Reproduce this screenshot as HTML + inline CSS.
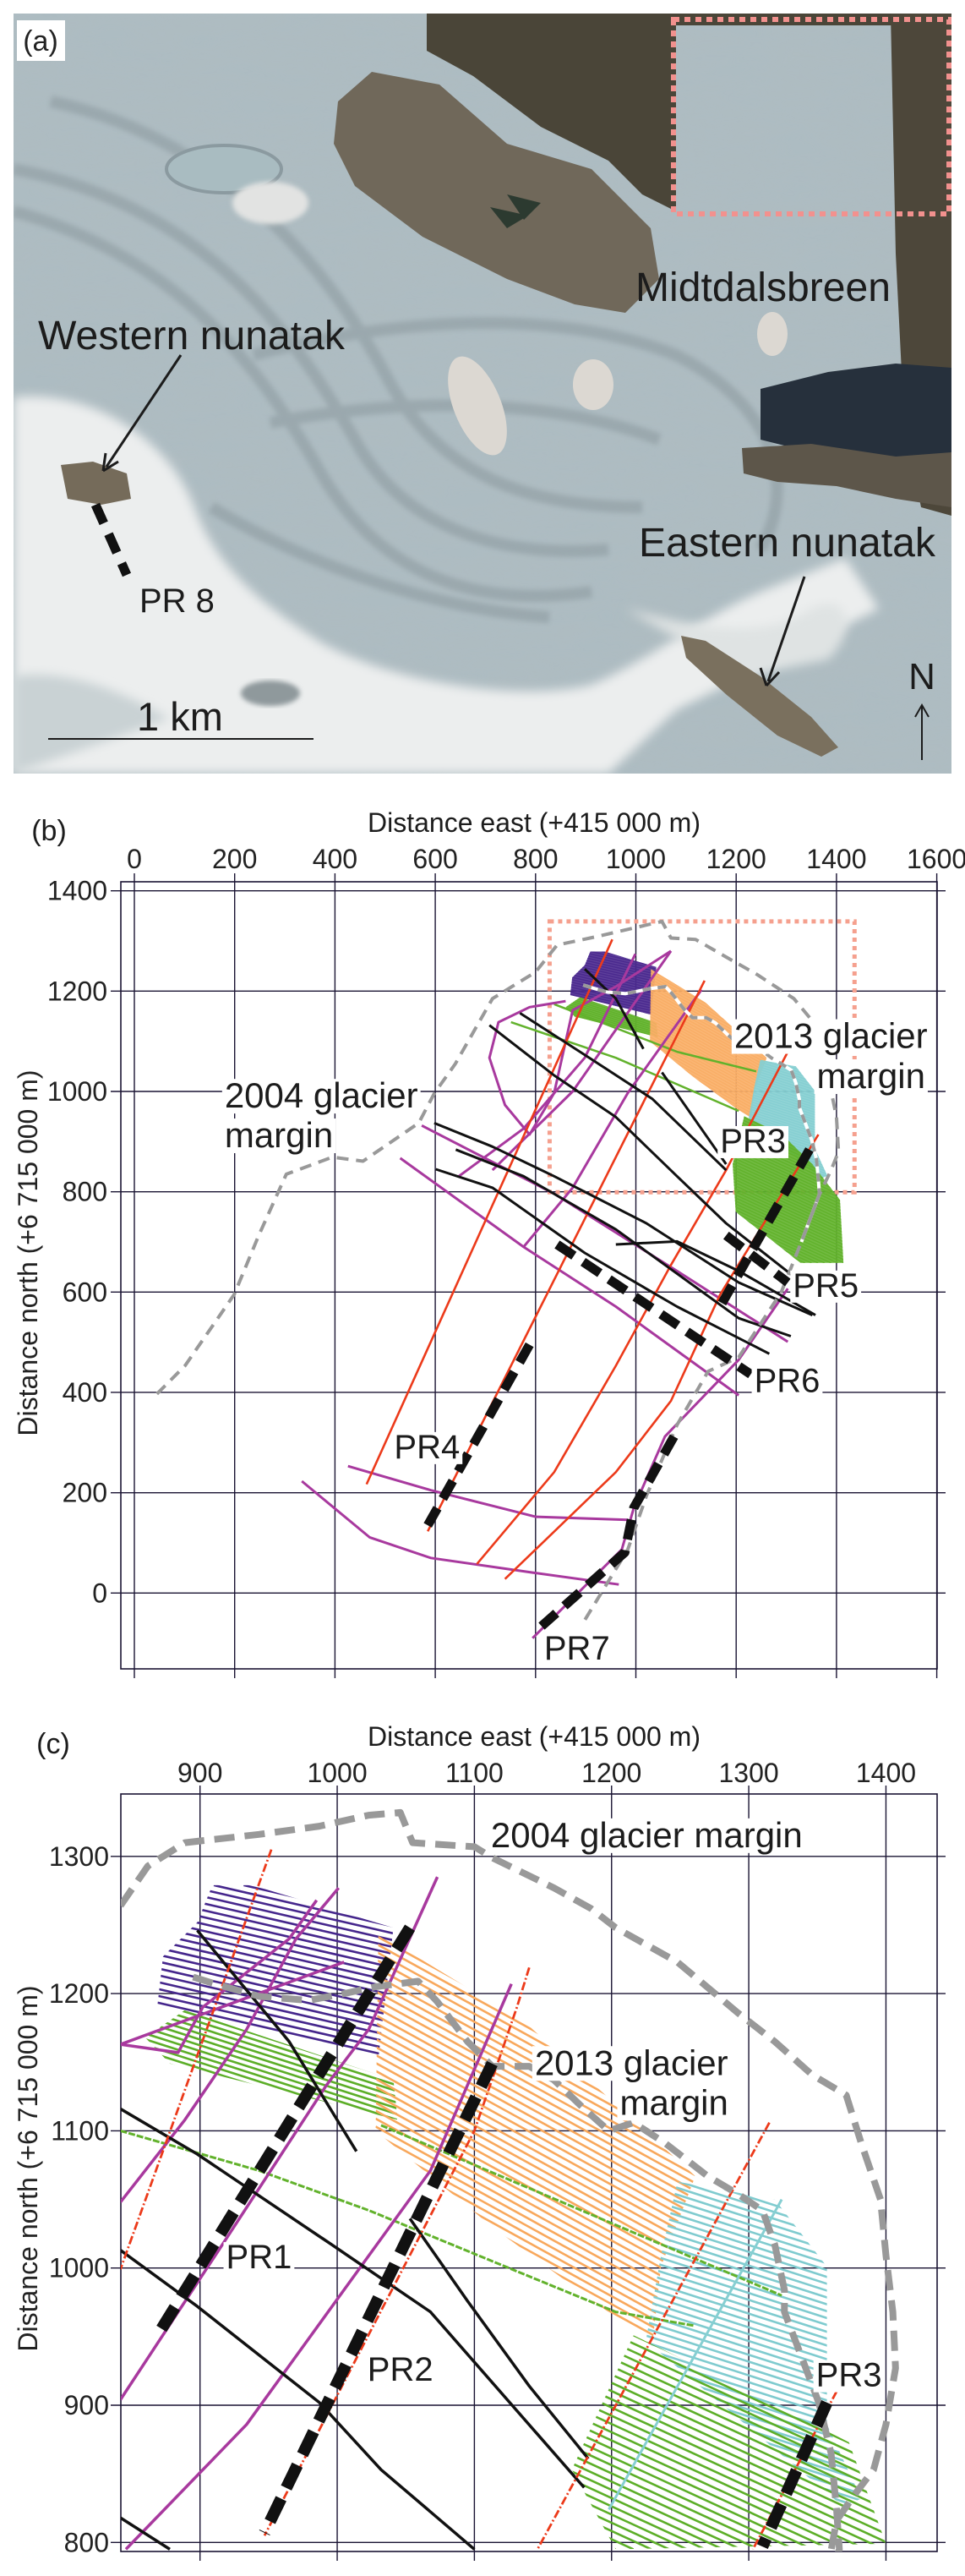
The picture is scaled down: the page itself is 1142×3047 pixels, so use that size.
<!DOCTYPE html>
<html><head><meta charset="utf-8"><style>
html,body{margin:0;padding:0;background:#fff;width:1142px;height:3047px;overflow:hidden;}
svg{display:block;font-family:"Liberation Sans",Arial,sans-serif;}
</style></head><body>
<svg id="fig" width="1142" height="3047" viewBox="0 0 1142 3047" xmlns="http://www.w3.org/2000/svg">
<defs>
<filter id="blur6"><feGaussianBlur stdDeviation="6"/></filter>
<filter id="blur3"><feGaussianBlur stdDeviation="3"/></filter>
<filter id="tex" x="0" y="0" width="100%" height="100%"><feTurbulence type="fractalNoise" baseFrequency="0.012 0.05" numOctaves="3" seed="4"/><feColorMatrix type="matrix" values="0 0 0 0 0.45  0 0 0 0 0.5  0 0 0 0 0.52  0 0 0 0.55 -0.1"/></filter>
<clipPath id="clipA"><rect x="16" y="16" width="1110" height="899"/></clipPath>
<clipPath id="clipB"><rect x="143" y="1043" width="966" height="931"/></clipPath>
<clipPath id="clipC"><rect x="143" y="2122" width="966" height="896"/></clipPath>
</defs>

<g id="panelA" clip-path="url(#clipA)">
<rect x="16" y="16" width="1110" height="899" fill="#adbcc2"/>
<rect x="16" y="16" width="1110" height="899" filter="url(#tex)" opacity="0.8"/>
<g fill="none" stroke="#7f8c92" stroke-width="14" opacity="0.4" filter="url(#blur3)">
<path d="M16,250 C200,300 300,420 380,560 C450,680 560,720 700,700"/>
<path d="M16,200 C230,240 340,380 420,520 C480,630 600,660 720,650"/>
<path d="M60,120 C250,160 380,300 460,450 C520,560 620,600 760,600"/>
<path d="M300,420 C450,380 650,360 800,420 C900,470 950,560 900,650"/>
<path d="M320,500 C480,470 650,470 780,520"/>
<path d="M250,600 C350,660 500,720 650,730"/>
</g>
<path d="M16,470 C110,460 200,520 230,600 C260,680 320,720 380,760 C470,810 620,830 700,810 C770,780 830,730 900,700 L1000,660 L1040,720 L900,790 L800,840 L720,915 L16,915 Z" fill="#eceeee" filter="url(#blur6)"/>
<path d="M16,800 C80,790 150,820 200,850 L16,915 Z" fill="#c9d2d4" filter="url(#blur6)"/>
<path d="M740,720 C820,740 900,760 960,720 C1000,700 1020,740 980,780 L880,800 Z" fill="#dfe3e3" filter="url(#blur6)"/>
<path d="M505,16 L1126,16 L1126,30 L800,30 L800,250 L760,230 L720,190 L640,150 L560,90 L505,60 Z" fill="#4a4538"/>
<path d="M1054,16 L1126,16 L1126,610 L1090,600 L1070,500 L1060,300 Z" fill="#4d473a"/>
<path d="M400,120 L440,85 L520,100 L600,170 L700,200 L770,270 L780,330 L740,370 L680,360 L600,330 L500,280 L420,220 L395,170 Z" fill="#70685a"/>
<path d="M600,230 L640,240 L620,260 Z M580,245 L625,255 L600,270 Z" fill="#2c3a30"/>
<path d="M900,460 L980,440 L1060,430 L1126,435 L1126,550 L1060,545 L980,540 L900,520 Z" fill="#26303c"/>
<path d="M878,530 L960,525 L1060,540 L1126,535 L1126,600 L1060,590 L990,575 L920,570 L880,560 Z" fill="#5d564a"/>
<path d="M806,752 L835,758 L900,800 L960,848 L992,884 L972,895 L920,870 L860,822 L812,778 Z" fill="#7a705e"/>
<path d="M72,550 L110,546 L150,560 L155,590 L120,597 L80,590 Z" fill="#756b5a"/>
<ellipse cx="565" cy="480" rx="28" ry="62" transform="rotate(-22 565 480)" fill="#dcd8d2"/>
<ellipse cx="702" cy="455" rx="24" ry="30" fill="#dcd8d2"/>
<ellipse cx="914" cy="395" rx="18" ry="26" fill="#dcd8d2"/>
<ellipse cx="265" cy="200" rx="68" ry="28" fill="#a9bcc1" stroke="#8b9aa0" stroke-width="4"/>
<ellipse cx="320" cy="240" rx="45" ry="25" fill="#e2e3e2" filter="url(#blur3)"/>
<ellipse cx="320" cy="820" rx="35" ry="15" fill="#8f999c" filter="url(#blur3)"/>
<rect x="797" y="23" width="326" height="230" fill="none" stroke="#f2918e" stroke-width="6" stroke-dasharray="7 6"/>
<rect x="20" y="24" width="57" height="48" fill="#fff"/>
<text x="48" y="60" font-size="34" text-anchor="middle" fill="#222">(a)</text>
<text x="752" y="356" font-size="48" textLength="302" lengthAdjust="spacingAndGlyphs" fill="#1c1c1c">Midtdalsbreen</text>
<text x="45" y="413" font-size="48" textLength="363" lengthAdjust="spacingAndGlyphs" fill="#1c1c1c">Western nunatak</text>
<line x1="214" y1="420" x2="126" y2="552" stroke="#1c1c1c" stroke-width="3"/>
<path d="M122,557 L125,536 M122,557 L140,546" stroke="#1c1c1c" stroke-width="3" fill="none"/>
<line x1="113" y1="597" x2="150" y2="680" stroke="#111" stroke-width="11" stroke-dasharray="24 14"/>
<text x="165" y="724" font-size="40" fill="#1c1c1c">PR 8</text>
<text x="756" y="658" font-size="48" textLength="351" lengthAdjust="spacingAndGlyphs" fill="#1c1c1c">Eastern nunatak</text>
<line x1="952" y1="682" x2="909" y2="806" stroke="#1c1c1c" stroke-width="3"/>
<path d="M907,811 L900,790 M907,811 L922,795" stroke="#1c1c1c" stroke-width="3" fill="none"/>
<text x="162" y="864" font-size="47" fill="#1c1c1c">1 km</text>
<line x1="57" y1="874" x2="371" y2="874" stroke="#1c1c1c" stroke-width="2"/>
<text x="1091" y="815" font-size="44" text-anchor="middle" fill="#1c1c1c">N</text>
<line x1="1091" y1="899" x2="1091" y2="836" stroke="#1c1c1c" stroke-width="2"/>
<path d="M1083,848 L1091,834 L1099,848" stroke="#1c1c1c" stroke-width="2" fill="none"/>
</g>
<g id="panelB"></g>
<g id="panelC"></g>
</svg>
<script>
const NS='http://www.w3.org/2000/svg';
const margin2004B=[[45,397],[101,453],[199,595],[248,713],[303,835],[395,869],[456,861],[567,937],[598,996],[640,1055],[714,1185],[800,1238],[843,1292],[923,1309],[1052,1339],[1070,1306],[1119,1303],[1180,1268],[1242,1233],[1315,1185],[1364,1126],[1383,1032],[1400,949],[1404,880],[1390,845],[1364,790],[1330,700],[1290,600],[1205,470],[1144,442],[1082,335],[1021,194],[984,87],[898,-54]];
const margin2004C=[[842,1264],[862,1293],[889,1310],[943,1316],[987,1322],[1023,1330],[1046,1332],[1055,1310],[1100,1307],[1113,1299],[1158,1277],[1185,1262],[1203,1248],[1248,1223],[1292,1186],[1319,1165],[1346,1141],[1371,1126],[1382,1091],[1396,1050],[1400,1009],[1405,968],[1407,927],[1400,886],[1391,853],[1378,836],[1364,816],[1360,794]];
const margin2013=[[895,1212],[911,1207],[943,1198],[979,1195],[1005,1200],[1028,1205],[1059,1209],[1073,1194],[1095,1165],[1113,1147],[1140,1147],[1158,1137],[1180,1116],[1198,1100],[1216,1106],[1239,1091],[1270,1067],[1292,1054],[1310,1042],[1319,1017],[1326,984],[1326,968],[1337,939],[1351,902],[1360,865],[1364,824],[1366,795],[1330,700]];
const zonePurple=[[909,1279],[938,1279],[1041,1248],[1030,1153],[869,1192],[873,1227],[898,1252]];
const zoneGreenUp=[[889,1188],[1041,1137],[1044,1108],[878,1149],[860,1168]];
const zoneOrange=[[1030,1244],[1138,1178],[1261,1067],[1236,1001],[1230,947],[1203,964],[1113,1030],[1028,1100]];
const zoneCyan=[[1248,1063],[1319,1050],[1357,1001],[1357,886],[1382,832],[1369,826],[1225,947],[1236,1009]];
const zoneGreenLowC=[[1216,951],[1292,914],[1373,873],[1400,799],[1203,795],[1171,853]];
const zoneGreenLowB=[[1193,855],[1216,951],[1292,914],[1352,855],[1407,784],[1414,658],[1328,658],[1199,760]];
const zoneSlopes=[-0.23,-0.32,-0.55,-0.32,-0.46];
const zoneSpacing=[5,4.2,5.8,5,6];
const redLinesB=[[[463,217],[953,1303]],[[585,123],[1137,1221]],[[683,58],[837,241],[960,453],[1070,654],[1180,843],[1303,1079]],[[739,28],[960,241],[1070,383],[1168,595],[1364,914]]];
const purpleLinesB=[[[334,223],[469,111],[591,70],[800,40],[966,17]],[[426,253],[591,205],[800,152],[984,146]],[[794,-90],[972,87],[996,170],[1058,312],[1205,465],[1303,607]],[[530,867],[776,690],[960,571],[1205,394]],[[573,932],[837,796],[1082,642],[1303,501]],[[647,831],[776,926],[898,1067],[999,1274]],[[714,843],[874,1000],[1070,1280]],[[776,690],[874,808],[984,997],[1131,1203]],[[1070,1280],[960,1209],[874,1162],[837,997],[788,914],[739,973],[708,1067],[726,1138],[788,1168],[860,1180]]];
const blackLinesB=[[[708,1132],[837,1032],[960,949],[1082,831],[1180,737],[1315,631]],[[769,1156],[898,1073],[1033,985],[1180,843]],[[598,937],[714,890],[837,831],[1021,737],[1205,619],[1352,554]],[[641,884],[776,831],[960,725],[1205,548],[1309,512]],[[601,845],[714,808],[898,678],[1082,571],[1266,477]],[[960,695],[1082,701],[1205,642],[1358,554]],[[898,1244],[960,1185],[1015,1085]],[[1052,1038],[1180,855]]];
const greenLinesB=[[[751,1138],[960,1067],[1205,961]],[[837,1174],[1082,1079],[1240,1040]]];
const prLinesB=[[[788,495],[585,135]],[[1346,884],[1168,571]],[[1180,713],[1303,619]],[[843,695],[1229,436]],[[1076,312],[996,170],[978,81],[812,-66]]];
const redLinesC=[[[952,1305],[842,999]],[[1140,1219],[1131,1190],[1100,1100],[947,805]],[[1315,1106],[1146,795]],[[1364,910],[1303,795]]];
const purpleLinesC=[[[842,1048],[889,1108],[934,1174],[970,1240],[1001,1277]],[[842,904],[911,1009],[992,1133],[1023,1174],[1073,1285]],[[846,795],[934,886],[1023,1009],[1068,1071],[1127,1207]],[[842,1163],[884,1157],[902,1190],[965,1240],[985,1268]],[[842,1163],[1005,1223]]];
const blackLinesC=[[[898,1246],[965,1165],[1014,1085]],[[842,1116],[898,1083],[996,1017],[1068,968],[1180,840]],[[842,1013],[898,972],[987,902],[1032,853],[1100,795]],[[1053,1036],[1095,976],[1140,914],[1183,861]],[[842,818],[878,795]]];
const greenLinesC=[[[842,1100],[943,1071],[1023,1042],[1113,1005],[1203,968],[1260,958]],[[1032,1104],[1324,980]]];
const cyanLinesC=[[[1324,1050],[1198,824]]];
const prLinesC=[[[1053,1248],[869,951]],[[1113,1149],[947,807]],[[1357,902],[1310,797]]];
const xTicksB=[0,200,400,600,800,1000,1200,1400,1600];
const yTicksB=[0,200,400,600,800,1000,1200,1400];
const xTicksC=[900,1000,1100,1200,1300,1400];
const yTicksC=[800,900,1000,1100,1200,1300];
const zoomBox=[[828,1339],[1436,799]];

const xb=v=>159+v*0.5935, yb=v=>1884.3-v*0.5933;
const xc=v=>236.7+(v-900)*1.6235, yc=v=>3007.3-(v-800)*1.623;

function mk(tag,attrs,parent){const e=document.createElementNS(NS,tag);for(const k in attrs)e.setAttribute(k,attrs[k]);parent.appendChild(e);return e;}
function ptsStr(arr,X,Y){return arr.map(p=>X(p[0]).toFixed(1)+','+Y(p[1]).toFixed(1)).join(' ');}

function axes(g,X,Y,xt,yt,frame,xLblY,yLblX){
  const [fx1,fy1,fx2,fy2]=frame;
  xt.forEach(v=>{const l=mk('line',{x1:X(v),x2:X(v),y1:fy1-10,y2:fy2+11,stroke:'#1a1433','stroke-width':1.4},g);
    
    
    const t=mk('text',{x:X(v),y:xLblY,'font-size':32,'text-anchor':'middle',fill:'#222'},g);t.textContent=v;
    
    });
  yt.forEach(v=>{const l=mk('line',{x1:fx1-12,x2:fx2+10,y1:Y(v),y2:Y(v),stroke:'#1a1433','stroke-width':1.4},g);
    
    
    const t=mk('text',{x:yLblX,y:Y(v)+11,'font-size':32,'text-anchor':'end',fill:'#222'},g);t.textContent=v;
    
    });
  const r=mk('rect',{x:fx1,y:fy1,width:fx2-fx1,height:fy2-fy1,fill:'none',stroke:'#1a1433','stroke-width':1.6},g);
  
  
}
function poly(g,arr,X,Y,stroke,w,dash,name){
  const p=mk('polyline',{points:ptsStr(arr,X,Y),fill:'none',stroke:stroke,'stroke-width':w,'stroke-linejoin':'round'},g);
  if(dash)p.setAttribute('stroke-dasharray',dash);
  
  
  return p;
}
let zid=0;
function zone(g,arr,X,Y,color,slope,sp,w,fillOp,name){
  zid++;
  const cp=mk('clipPath',{id:'zc'+zid},g);
  mk('polygon',{points:ptsStr(arr,X,Y)},cp);
  const zg=mk('g',{'clip-path':'url(#zc'+zid+')'},g);
  
  
  if(fillOp>0){const f=mk('polygon',{points:ptsStr(arr,X,Y),fill:color,opacity:fillOp},zg);
    
    }
  const xs=arr.map(p=>p[0]),ys=arr.map(p=>p[1]);
  const x0=Math.min(...xs),x1=Math.max(...xs),ymin=Math.min(...ys),ymax=Math.max(...ys);
  const ylo=ymin-Math.abs(slope)*(x1-x0),yhi=ymax+Math.abs(slope)*(x1-x0);
  for(let b=ylo;b<=yhi;b+=sp){
    // line y=b+slope*(x-x0); clip x so y stays inside [ymin,ymax]
    let xa=x0+(ymax-b)/slope, xbb=x0+(ymin-b)/slope;
    let lo=Math.max(x0,Math.min(xa,xbb)), hi=Math.min(x1,Math.max(xa,xbb));
    if(hi<=lo)continue;
    const l=mk('line',{x1:X(lo),y1:Y(b+slope*(lo-x0)),x2:X(hi),y2:Y(b+slope*(hi-x0)),stroke:color,'stroke-width':w},zg);
    
    
  }
}
function label(g,txt,x,y,size,anchor,bg,name){
  const t=mk('text',{x:x,y:y,'font-size':size,'text-anchor':anchor,fill:'#1c1c1c'},g);t.textContent=txt;
  
  
  if(bg){const bb=t.getBBox();const r=document.createElementNS(NS,'rect');
    r.setAttribute('x',bb.x-3);r.setAttribute('y',bb.y+4);r.setAttribute('width',bb.width+6);r.setAttribute('height',bb.height-6);r.setAttribute('fill','#fff');
    
    
    g.insertBefore(r,t);}
}

const gB=document.getElementById('panelB');
axes(gB,xb,yb,xTicksB,yTicksB,[143,1043,1109,1974],1027,127);
const gBd=mk('g',{'clip-path':'url(#clipB)'},gB);


const zb=mk('rect',{x:xb(zoomBox[0][0]),y:yb(zoomBox[0][1]),width:xb(zoomBox[1][0])-xb(zoomBox[0][0]),height:yb(zoomBox[1][1])-yb(zoomBox[0][1]),fill:'none',stroke:'#f5a08e','stroke-width':5,'stroke-dasharray':'5 5'},gBd);


zone(gBd,zonePurple,xb,yb,'#4b2a8f',zoneSlopes[0],zoneSpacing[0],1.5,0.9,'purple-survey-zone');
zone(gBd,zoneGreenUp,xb,yb,'#62b22c',zoneSlopes[1],zoneSpacing[1],1.5,0.9,'green-survey-zone-upper');
zone(gBd,zoneOrange,xb,yb,'#f9ae66',zoneSlopes[2],zoneSpacing[2],1.5,0.9,'orange-survey-zone');
zone(gBd,zoneCyan,xb,yb,'#86cfd2',zoneSlopes[3],zoneSpacing[3],1.5,0.9,'cyan-survey-zone');
zone(gBd,zoneGreenLowB,xb,yb,'#62b22c',zoneSlopes[4],zoneSpacing[4],1.5,0.9,'green-survey-zone-lower');
greenLinesB.forEach((l,i)=>poly(gBd,l,xb,yb,'#62b22c',2.5,null,'green-line-'+i));
purpleLinesB.forEach((l,i)=>poly(gBd,l,xb,yb,'#a8399e',3,null,'purple-line-'+i));
redLinesB.forEach((l,i)=>poly(gBd,l,xb,yb,'#ec3a1a',2.6,null,'red-line-'+i));
blackLinesB.forEach((l,i)=>poly(gBd,l,xb,yb,'#111',3,null,'black-line-'+i));
poly(gBd,margin2013,xb,yb,'#fff',4,null,'margin-2013-white');
poly(gBd,margin2013,xb,yb,'#999',4,'10 8','margin-2013');
poly(gBd,margin2004B,xb,yb,'#999',4,'14 9','margin-2004');
prLinesB.forEach((l,i)=>poly(gBd,l,xb,yb,'#111',11,'24 13','profile-dashed-'+i));
label(gB,'2004 glacier',xb(180),yb(993)+15,42,'start',true,'label-2004-glacier');
label(gB,'margin',xb(180),yb(914)+15,42,'start',true,'label-2004-margin');
label(gB,'2013 glacier',xb(1196),yb(1112)+15,42,'start',true,'label-2013-glacier');
label(gB,'margin',xb(1577),yb(1032)+15,42,'end',true,'label-2013-margin');
label(gB,'PR3',xb(1168),yb(904)+15,40,'start',true,'label-pr3');
label(gB,'PR5',xb(1313),yb(616)+15,40,'start',true,'label-pr5');
label(gB,'PR6',xb(1236),yb(426)+15,40,'start',true,'label-pr6');
label(gB,'PR4',xb(518),yb(294)+15,40,'start',true,'label-pr4');
label(gB,'PR7',xb(817),yb(-107)+15,40,'start',true,'label-pr7');
label(gB,'(b)',58,994,34,'middle',false,'panel-label-b');
label(gB,'Distance east (+415 000 m)',632,984,32,'middle',false,'x-axis-title-b');
const ytB=mk('text',{x:0,y:0,'font-size':32,'text-anchor':'middle',fill:'#222',transform:'translate(44,1482) rotate(-90)'},gB);
ytB.textContent='Distance north (+6 715 000 m)';



const gC=document.getElementById('panelC');
axes(gC,xc,yc,xTicksC,yTicksC,[143,2122,1109,3018],2108,129);
const gCd=mk('g',{'clip-path':'url(#clipC)'},gC);


zone(gCd,zonePurple,xc,yc,'#45268c',zoneSlopes[0],zoneSpacing[0],2.6,0,'purple-survey-zone');
zone(gCd,zoneGreenUp,xc,yc,'#5cae28',zoneSlopes[1],zoneSpacing[1],2.6,0,'green-survey-zone-upper');
zone(gCd,zoneOrange,xc,yc,'#f8a85c',zoneSlopes[2],zoneSpacing[2],2.6,0,'orange-survey-zone');
zone(gCd,zoneCyan,xc,yc,'#7fcbcf',zoneSlopes[3],zoneSpacing[3],2.6,0,'cyan-survey-zone');
zone(gCd,zoneGreenLowC,xc,yc,'#5cae28',zoneSlopes[4],zoneSpacing[4],2.6,0,'green-survey-zone-lower');
greenLinesC.forEach((l,i)=>poly(gCd,l,xc,yc,'#62b22c',3,'8 2','green-line-'+i));
cyanLinesC.forEach((l,i)=>poly(gCd,l,xc,yc,'#86cfd2',3,null,'cyan-line-'+i));
purpleLinesC.forEach((l,i)=>poly(gCd,l,xc,yc,'#a8399e',3.5,null,'purple-line-'+i));
blackLinesC.forEach((l,i)=>poly(gCd,l,xc,yc,'#111',3.5,null,'black-line-'+i));
redLinesC.forEach((l,i)=>poly(gCd,l,xc,yc,'#ec3a1a',2.8,'10 3 2 3','red-line-'+i));
poly(gCd,margin2013,xc,yc,'#999',8,'24 12','margin-2013');
poly(gCd,margin2004C,xc,yc,'#999',8,'24 12','margin-2004');
prLinesC.forEach((l,i)=>poly(gCd,l,xc,yc,'#111',14,'30 14','profile-dashed-'+i));
label(gC,'2004 glacier margin',xc(1112),yc(1316)+15,42,'start',true,'label-2004-margin');
label(gC,'2013 glacier',xc(1144),yc(1150)+15,42,'start',true,'label-2013-glacier');
label(gC,'margin',xc(1206),yc(1121)+15,42,'start',true,'label-2013-margin');
label(gC,'PR1',xc(919),yc(1009)+15,40,'start',true,'label-pr1');
label(gC,'PR2',xc(1022),yc(927)+15,40,'start',true,'label-pr2');
label(gC,'PR3',xc(1349),yc(923)+15,40,'start',true,'label-pr3');
label(gC,'(c)',63,2074,34,'middle',false,'panel-label-c');
label(gC,'Distance east (+415 000 m)',632,2065,32,'middle',false,'x-axis-title-c');
const ytC=mk('text',{x:0,y:0,'font-size':32,'text-anchor':'middle',fill:'#222',transform:'translate(44,2565) rotate(-90)'},gC);
ytC.textContent='Distance north (+6 715 000 m)';


</script>
</body></html>
